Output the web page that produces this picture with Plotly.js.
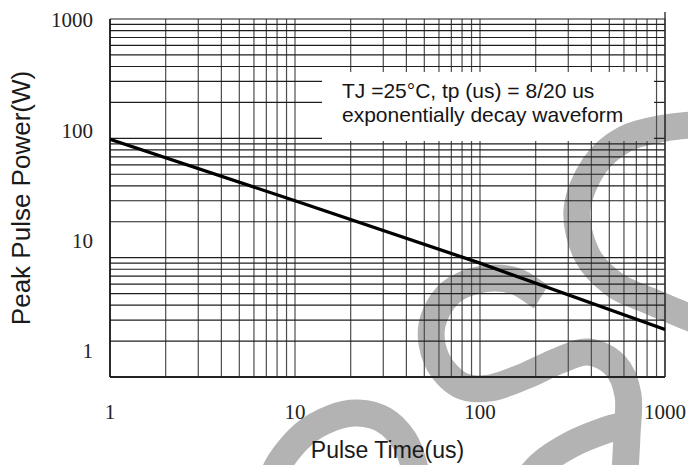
<!DOCTYPE html>
<html>
<head>
<meta charset="utf-8">
<script src="https://cdn.plot.ly/plotly-3.0.1.min.js"></script>
<style>
html,body{margin:0;padding:0;background:#fff;}
#chart{width:688px;height:465px;}
</style>
</head>
<body>
<div id="chart"></div>
<script>
// ---- data ----
const pulseTime = [1, 10, 100, 1000];          // us
const peakPower = [98, 30, 9, 2.5];            // W
const xTickVals = [1, 10, 100, 1000];
const xTickText = ['1', '10', '100', '1000'];
const yTickVals = [1, 10, 100, 1000];
const yTickText = ['1', '10', '100', '1000'];
const gridDecades = [1, 10, 100];
const gridMultipliers = [1, 2, 3, 4, 5, 6, 7, 8, 9];
const noteLines = ['TJ =25°C, tp (us) = 8/20 us', 'exponentially decay waveform'];
const xTitle = 'Pulse Time(us)';
const yTitle = 'Peak Pulse Power(W)';

// ---- layout geometry ----
const W = 688, H = 465;
const M = {l: 110, r: 23, t: 19, b: 88};
const PW = W - M.l - M.r, PH = H - M.t - M.b;
const xRange = [0, 3], yRange = [0, 3];
const fx = v => (Math.log10(v) - xRange[0]) / (xRange[1] - xRange[0]);
const fy = v => (Math.log10(v) - yRange[0]) / (yRange[1] - yRange[0]);
const px = p => (p - M.l) / PW;
const py = p => (H - M.b - p) / PH;

// grid values
const gridVals = [];
gridDecades.forEach(d => gridMultipliers.forEach(m => gridVals.push(d * m)));
gridVals.push(1000);

// note box (pixels)
const box = {x0: 322, x1: 654, y0: 72, y1: 141};
const bx0 = px(box.x0), bx1 = px(box.x1), byTop = py(box.y0), byBot = py(box.y1);

const shapes = [];
// white note box
shapes.push({type: 'rect', xref: 'paper', yref: 'paper', layer: 'below',
  x0: bx0, x1: bx1, y0: byBot, y1: byTop, fillcolor: '#ffffff', line: {width: 0}});

// watermark strokes (decoration, pixel centre-lines)
function smoothPath(pts) {
  const P = pts.map(p => [px(p[0]), py(p[1])]);
  let d = 'M' + P[0][0].toFixed(5) + ',' + P[0][1].toFixed(5);
  for (let i = 0; i < P.length - 1; i++) {
    const p0 = P[Math.max(i - 1, 0)], p1 = P[i], p2 = P[i + 1], p3 = P[Math.min(i + 2, P.length - 1)];
    const c1 = [p1[0] + (p2[0] - p0[0]) / 6, p1[1] + (p2[1] - p0[1]) / 6];
    const c2 = [p2[0] - (p3[0] - p1[0]) / 6, p2[1] - (p3[1] - p1[1]) / 6];
    d += 'C' + [c1[0], c1[1], c2[0], c2[1], p2[0], p2[1]].map(n => n.toFixed(5)).join(',');
  }
  return d;
}
const wmStrokes = [
  [[705,124],[665,128],[625,139],[594,166],[577,210],[587,255],[615,285],[650,301],[705,324]],
  [[541,297],[515,281],[483,279],[450,293],[432,325],[437,360],[460,385],[490,388],[525,376],[558,361],[588,352],[615,365],[628,395],[627,435],[624,490]],
  [[520,490],[540,465],[572,444],[606,430],[626,425]],
  [[266,492],[280,462],[304,434],[332,418],[358,413],[384,420],[404,440],[414,465],[419,492]]
];
wmStrokes.forEach(s => shapes.push({type: 'path', xref: 'paper', yref: 'paper', layer: 'below',
  path: smoothPath(s), fillcolor: 'rgba(0,0,0,0)', line: {color: '#b3b3b3', width: 27}}));

// grid lines
const vCol = '#4d4d4d', hCol = '#1e1e1e';
gridVals.forEach(v => {
  const x = fx(v);
  if (x > bx0 && x < bx1) {
    shapes.push({type: 'line', xref: 'paper', yref: 'paper', layer: 'below', x0: x, x1: x, y0: 0, y1: byBot, line: {color: vCol, width: 1.2}});
    shapes.push({type: 'line', xref: 'paper', yref: 'paper', layer: 'below', x0: x, x1: x, y0: byTop, y1: 1, line: {color: vCol, width: 1.2}});
  } else {
    shapes.push({type: 'line', xref: 'paper', yref: 'paper', layer: 'below', x0: x, x1: x, y0: 0, y1: 1, line: {color: vCol, width: 1.2}});
  }
});
gridVals.forEach(v => {
  const y = fy(v);
  if (y > byBot && y < byTop) {
    shapes.push({type: 'line', xref: 'paper', yref: 'paper', layer: 'below', x0: 0, x1: bx0, y0: y, y1: y, line: {color: hCol, width: 1.2}});
    shapes.push({type: 'line', xref: 'paper', yref: 'paper', layer: 'below', x0: bx1, x1: 1, y0: y, y1: y, line: {color: hCol, width: 1.2}});
  } else {
    shapes.push({type: 'line', xref: 'paper', yref: 'paper', layer: 'below', x0: 0, x1: 1, y0: y, y1: y, line: {color: hCol, width: 1.2}});
  }
});
// frame details
shapes.push({type: 'line', xref: 'paper', yref: 'paper', layer: 'below', x0: 1, x1: 1, y0: 0, y1: py(12), line: {color: '#333', width: 1.4}});
shapes.push({type: 'line', xref: 'paper', yref: 'paper', layer: 'below', x0: 0, x1: 1, y0: 0, y1: 0, line: {color: '#222', width: 1.8}});
shapes.push({type: 'line', xref: 'paper', yref: 'paper', layer: 'below', x0: 0, x1: 0, y0: 0, y1: 1, line: {color: '#111', width: 1.6}});

const annotations = noteLines.map((t, i) => ({
  text: t, xref: 'paper', yref: 'paper', x: px(340), y: py(90 + i * 24),
  xanchor: 'left', yanchor: 'middle', showarrow: false,
  font: {family: 'Liberation Sans, Arial, sans-serif', size: 21, color: '#151515'}
}));

const traces = [
  {x: pulseTime, y: peakPower, type: 'scatter', mode: 'lines',
   line: {color: '#000', width: 3.3}, showlegend: false, hoverinfo: 'skip'},
  {x: [1], y: [null], yaxis: 'y2', type: 'scatter', mode: 'lines', showlegend: false, hoverinfo: 'skip'}
];

const layout = {
  width: W, height: H,
  margin: M,
  paper_bgcolor: '#ffffff', plot_bgcolor: 'rgba(0,0,0,0)',
  showlegend: false,
  xaxis: {
    type: 'log', range: xRange, showgrid: false, zeroline: false, showline: false, ticks: '',
    tickmode: 'array', tickvals: xTickVals, ticktext: xTickText, ticklabelstandoff: 20,
    tickfont: {family: 'Liberation Serif, Times New Roman, serif', size: 21, color: '#222'},
    title: {text: xTitle, standoff: 18, font: {family: 'Liberation Sans, Arial, sans-serif', size: 23, color: '#1a1a1a'}}
  },
  yaxis: {
    type: 'log', range: yRange, showgrid: false, zeroline: false, showline: false, ticks: '',
    showticklabels: false,
    title: {text: yTitle, standoff: 70, font: {family: 'Liberation Sans, Arial, sans-serif', size: 26, color: '#1a1a1a'}}
  },
  yaxis2: {
    type: 'log', range: yRange, domain: [py(351), py(20)], anchor: 'free', position: 0,
    showgrid: false, zeroline: false, showline: false, ticks: '',
    tickmode: 'array', tickvals: yTickVals, ticktext: yTickText, ticklabelstandoff: 17,
    tickfont: {family: 'Liberation Serif, Times New Roman, serif', size: 21, color: '#222'}
  },
  shapes: shapes,
  annotations: annotations,
  hovermode: false
};

Plotly.newPlot('chart', traces, layout, {displayModeBar: false, staticPlot: true});
</script>
</body>
</html>
